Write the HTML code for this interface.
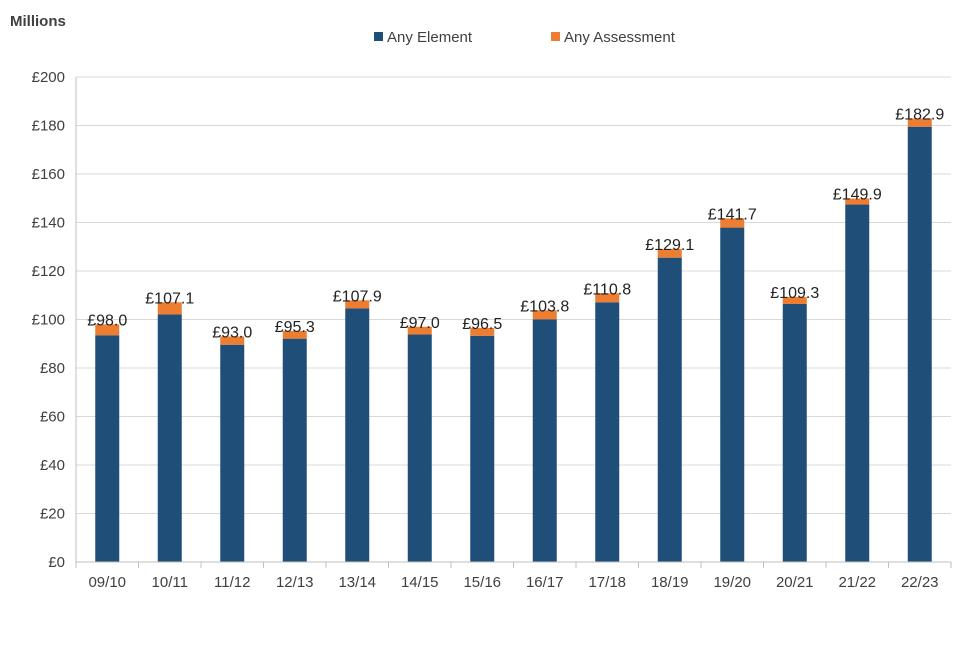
<!DOCTYPE html>
<html><head><meta charset="utf-8"><style>
body{margin:0;background:#fff;font-family:"Liberation Sans",Arial,sans-serif;}
svg text{font-family:"Liberation Sans",Arial,sans-serif;}
</style></head><body>
<svg id="chart" width="960" height="640" xmlns="http://www.w3.org/2000/svg">
<text x="10" y="26" font-size="15" font-weight="bold" fill="#404040">Millions</text>
<g>
<rect x="374" y="32" width="9" height="9" fill="#1f4e79"/>
<text x="387" y="42" font-size="15" fill="#404040">Any Element</text>
<rect x="551" y="32" width="9" height="9" fill="#ed7d31"/>
<text x="564" y="42" font-size="15" fill="#404040">Any Assessment</text>
</g>
<g id="grid"></g><g id="bars"></g><g id="axes"></g>
</svg>
<script>
const categories=["09/10","10/11","11/12","12/13","13/14","14/15","15/16","16/17","17/18","18/19","19/20","20/21","21/22","22/23"];
const element=[93.5,102.1,89.6,92.1,104.6,93.8,93.3,100.1,107.1,125.5,137.9,106.4,147.4,179.5];
const assessment=[4.5,5.0,3.4,3.2,3.3,3.2,3.2,3.7,3.7,3.6,3.8,2.9,2.5,3.4];
const totals=["£98.0","£107.1","£93.0","£95.3","£107.9","£97.0","£96.5","£103.8","£110.8","£129.1","£141.7","£109.3","£149.9","£182.9"];
const yTicks=[0,20,40,60,80,100,120,140,160,180,200];
const NS="http://www.w3.org/2000/svg";
const L=76,R=951,T=77,B=562,yMax=200;
const y=v=>B-(v/yMax)*(B-T);
const band=(R-L)/categories.length;
const xc=i=>L+band*(i+0.5);
const bw=24;
function mk(tag,attrs,parent){const e=document.createElementNS(NS,tag);for(const k in attrs)e.setAttribute(k,attrs[k]);parent.appendChild(e);return e;}
const grid=document.getElementById('grid'),bars=document.getElementById('bars'),axes=document.getElementById('axes');
yTicks.forEach(t=>{
  if(t>0){const g=mk('line',{x1:L,x2:R,y1:y(t),y2:y(t),stroke:'#d9d9d9','stroke-width':1},grid);
  
  }
  const tx=mk('text',{x:L-11,y:y(t)+5,'text-anchor':'end','font-size':15,fill:'#404040'},axes);
  tx.textContent='£'+t;
  
  
});
categories.forEach((c,i)=>{
  const x=xc(i)-bw/2;
  const e=mk('rect',{x:x,y:y(element[i]),width:bw,height:B-y(element[i]),fill:'#1f4e79'},bars);
  
  
  const top=element[i]+assessment[i];
  const a=mk('rect',{x:x,y:y(top),width:bw,height:y(element[i])-y(top),fill:'#ed7d31'},bars);
  
  
  const lb=mk('text',{x:xc(i),y:y(top)+1,'text-anchor':'middle','font-size':16,fill:'#222'},bars);
  lb.textContent=totals[i];
  
  
  const cl=mk('text',{x:xc(i),y:B+25,'text-anchor':'middle','font-size':15,fill:'#404040'},axes);
  cl.textContent=c;
  
  
  const tk=mk('line',{x1:L+band*i,x2:L+band*i,y1:B,y2:B+6,stroke:'#bfbfbf'},axes);
  
  
});
const tkl=mk('line',{x1:R,x2:R,y1:B,y2:B+6,stroke:'#bfbfbf'},axes);


const xa=mk('line',{x1:L,x2:R,y1:B,y2:B,stroke:'#bfbfbf'},axes);


const ya=mk('line',{x1:L,x2:L,y1:T,y2:B,stroke:'#bfbfbf'},axes);


</script>
</body></html>
